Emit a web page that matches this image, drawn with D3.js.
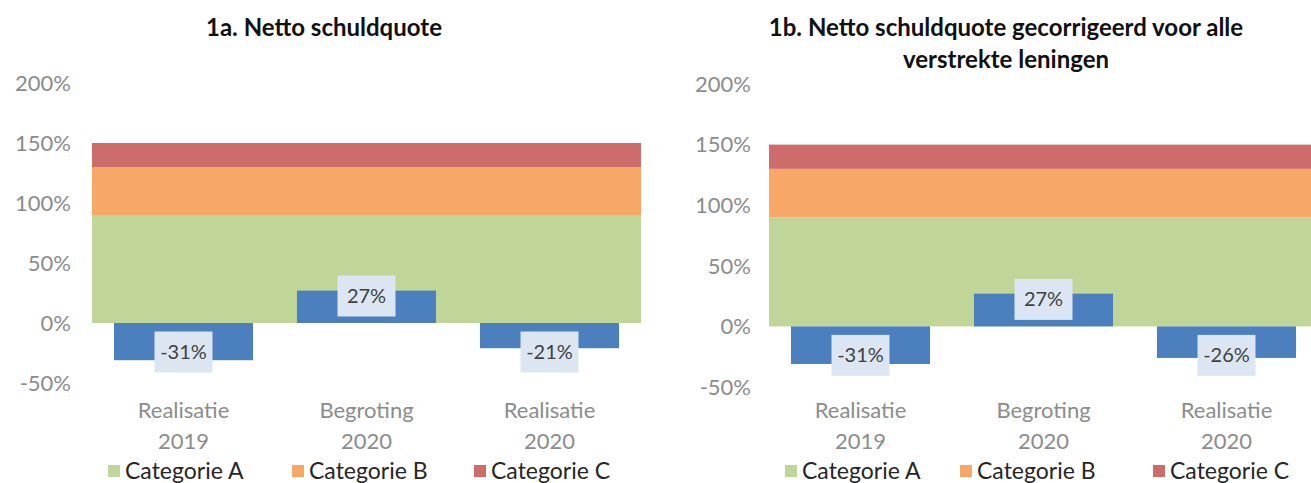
<!DOCTYPE html>
<html>
<head>
<meta charset="utf-8">
<script src="https://cdn.jsdelivr.net/npm/d3@7"></script>
<style>
  html, body { margin: 0; padding: 0; background: #fff; }
  svg { display: block; font-family: Lato, "Open Sans", sans-serif; }
</style>
</head>
<body>
<svg id="chart" width="1311" height="483"></svg>
<script>
// data
const categories = ['Realisatie 2019', 'Begroting 2020', 'Realisatie 2020'];
const schuldquote = [-31, 27, -21];
const schuldquoteGecorrigeerd = [-31, 27, -26];
const bandNames = ['Categorie A', 'Categorie B', 'Categorie C'];
const bandFrom = [0, 90, 130];
const bandTo = [90, 130, 150];
const yTicks = [-50, 0, 50, 100, 150, 200];

const bandColors = ['#c0d698', '#f7a866', '#cc6d6b'];
const barColor = '#4b7fbd';

const svg = d3.select('#chart');

const panels = [
    { title: ['1a. Netto schuldquote'], titleX: 324, values: schuldquote,
      left: 92, right: 641, top: 83, bottom: 383, axisX: 71, legendX: [125, 309, 491] },
    { title: ['1b. Netto schuldquote gecorrigeerd voor alle', 'verstrekte leningen'], titleX: 1006,
      values: schuldquoteGecorrigeerd,
      left: 769, right: 1318, top: 84, bottom: 387, axisX: 751, legendX: [802, 977, 1170] }
];

panels.forEach(p => {
    const g = svg.append('g');

    const x = d3.scaleBand().domain(categories).range([p.left, p.right]).padding(0);
    const y = d3.scaleLinear().domain([-50, 200]).range([p.bottom, p.top]);

    // title
    g.append('text')
        .attr('x', p.titleX)
        .attr('y', 36)
        .attr('text-anchor', 'middle')
        .attr('font-weight', 'bold')
        .attr('font-size', 24)
        .attr('fill', '#111')
        .selectAll('tspan')
        .data(p.title)
        .join('tspan')
        .attr('x', p.titleX)
        .attr('dy', (d, i) => i === 0 ? 0 : 32)
        .text(d => d);

    // y axis labels
    g.append('g')
        .selectAll('text')
        .data(yTicks)
        .join('text')
        .attr('x', p.axisX)
        .attr('y', d => y(d))
        .attr('dy', '0.35em')
        .attr('text-anchor', 'end')
        .attr('font-size', 22)
        .attr('fill', '#8c8c8c')
        .text(d => d + '%');

    // background bands
    g.append('g')
        .selectAll('rect')
        .data(bandNames)
        .join('rect')
        .attr('x', p.left)
        .attr('width', p.right - p.left)
        .attr('y', (d, i) => y(bandTo[i]))
        .attr('height', (d, i) => y(bandFrom[i]) - y(bandTo[i]))
        .attr('fill', (d, i) => bandColors[i]);

    // bars
    const barW = x.bandwidth() * 0.76;
    g.append('g')
        .selectAll('rect')
        .data(p.values)
        .join('rect')
        .attr('x', (d, i) => x(categories[i]) + (x.bandwidth() - barW) / 2)
        .attr('width', barW)
        .attr('y', d => y(Math.max(0, d)))
        .attr('height', d => Math.abs(y(d) - y(0)))
        .attr('fill', barColor);

    // value labels (inside base)
    const lbl = g.append('g')
        .selectAll('g')
        .data(p.values)
        .join('g')
        .attr('transform', (d, i) => {
            const cx = x(categories[i]) + x.bandwidth() / 2;
            const cy = d >= 0 ? y(0) - 27 : y(0) + 29;
            return `translate(${cx},${cy})`;
        });
    lbl.append('rect')
        .attr('x', -29).attr('y', -20.5)
        .attr('width', 58).attr('height', 41)
        .attr('fill', '#dce6f2');
    lbl.append('text')
        .attr('text-anchor', 'middle')
        .attr('dy', '0.35em')
        .attr('font-size', 20)
        .attr('fill', '#404040')
        .text(d => d + '%');

    // category labels
    const cat = g.append('g')
        .selectAll('text')
        .data(categories)
        .join('text')
        .attr('text-anchor', 'middle')
        .attr('font-size', 22)
        .attr('fill', '#8c8c8c')
        .attr('y', 418);
    cat.selectAll('tspan')
        .data(d => d.split(' '))
        .join('tspan')
        .attr('x', function () { const c = d3.select(this.parentNode).datum(); return x(c) + x.bandwidth() / 2; })
        .attr('dy', (d, i) => i === 0 ? 0 : 31)
        .text(d => d);

    // legend
    const leg = g.append('g')
        .selectAll('g')
        .data(bandNames)
        .join('g')
        .attr('transform', (d, i) => `translate(${p.legendX[i]},471)`);
    leg.append('rect')
        .attr('x', -17).attr('y', -6)
        .attr('width', 12).attr('height', 12)
        .attr('fill', (d, i) => bandColors[i]);
    leg.append('text')
        .attr('x', 0)
        .attr('dy', '0.35em')
        .attr('font-size', 23)
        .attr('fill', '#262626')
        .text(d => d);
});
</script>
</body>
</html>
